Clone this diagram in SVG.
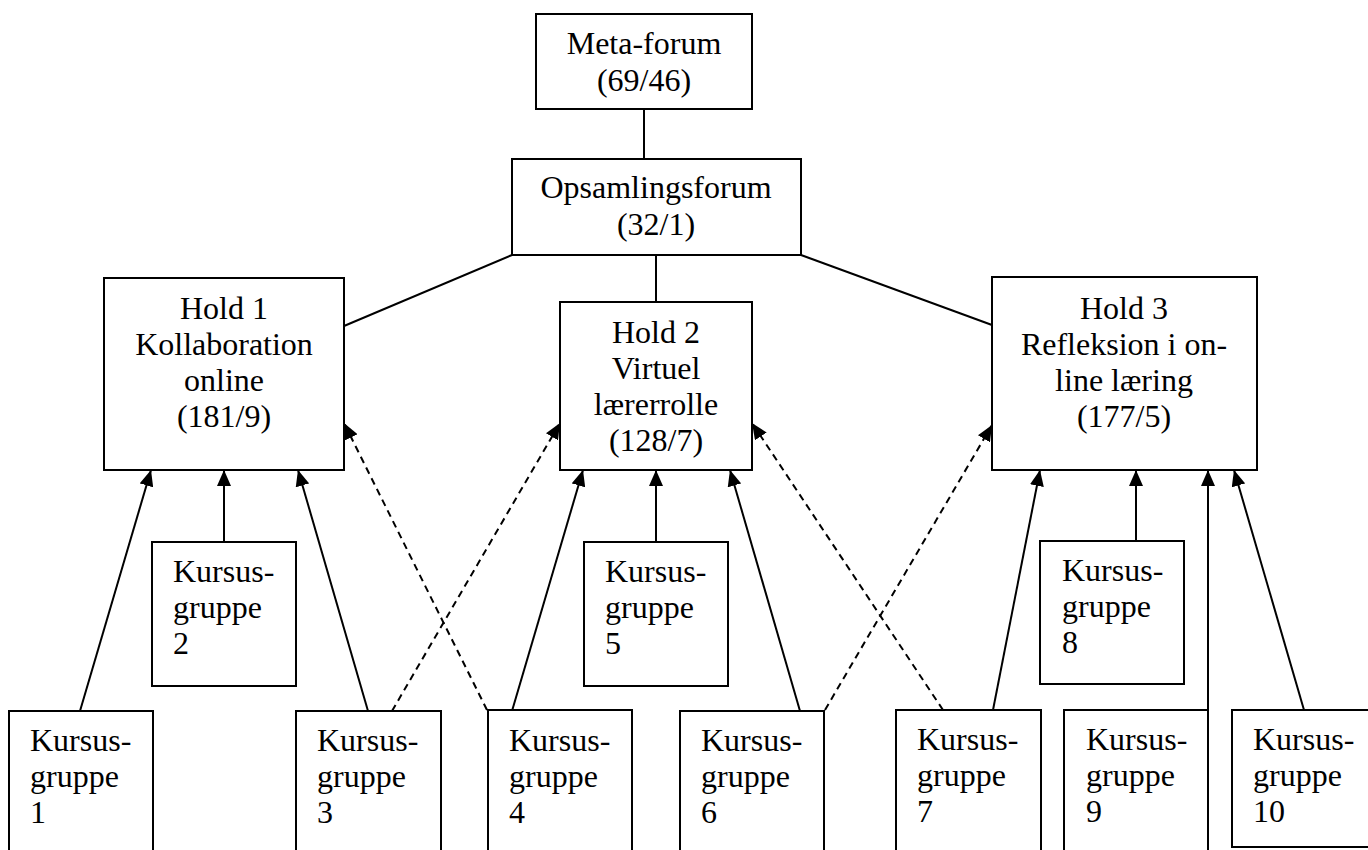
<svg xmlns="http://www.w3.org/2000/svg" width="1368" height="850" viewBox="0 0 1368 850">
<style>
rect{fill:#fff;stroke:#000;stroke-width:2}
text{font-family:"Liberation Serif","Times New Roman",serif;font-size:32px;fill:#000}
.c{text-anchor:middle}
.l{stroke:#000;stroke-width:2;fill:none}
.a{marker-end:url(#ah)}
.d{stroke-dasharray:7,5}
</style>
<defs>
<marker id="ah" markerUnits="userSpaceOnUse" markerWidth="16" markerHeight="14" refX="16" refY="7" orient="auto">
<path d="M0,0 L16,7 L0,14 Z" fill="#000"/>
</marker>
</defs>
<rect width="1368" height="850" style="stroke:none"/>
<g id="connectors">
<line class="l" x1="644" y1="109" x2="644" y2="159"/>
<line class="l" x1="656" y1="255" x2="656" y2="302"/>
<line class="l" x1="512" y1="255" x2="344" y2="326"/>
<line class="l" x1="801" y1="255" x2="992" y2="325"/>
<line class="l a" x1="80" y1="711" x2="151" y2="470"/>
<line class="l a" x1="224" y1="542" x2="224" y2="470"/>
<line class="l a" x1="368" y1="711" x2="298" y2="470"/>
<line class="l a" x1="512" y1="711" x2="583" y2="470"/>
<line class="l a" x1="656" y1="542" x2="656" y2="470"/>
<line class="l a" x1="800" y1="711" x2="730" y2="470"/>
<line class="l a" x1="993" y1="710" x2="1040" y2="470"/>
<line class="l a" x1="1136" y1="541" x2="1136" y2="470"/>
<line class="l a" x1="1208" y1="710" x2="1208" y2="470"/>
<line class="l a" x1="1304" y1="710" x2="1234" y2="470"/>
<line class="l a d" x1="392" y1="711" x2="560" y2="423"/>
<line class="l a d" x1="487" y1="710" x2="344" y2="423"/>
<line class="l a d" x1="825" y1="710" x2="992" y2="425"/>
<line class="l a d" x1="943" y1="710" x2="752" y2="423"/>
</g>
<g id="meta-forum">
<rect x="536" y="14" width="216" height="95"/>
<text class="c" x="644" y="54">Meta-forum</text>
<text class="c" x="644" y="91">(69/46)</text>
</g>
<g id="opsamlingsforum">
<rect x="512" y="159" width="289" height="96"/>
<text class="c" x="656" y="198">Opsamlingsforum</text>
<text class="c" x="656" y="235">(32/1)</text>
</g>
<g id="hold1">
<rect x="104" y="278" width="240" height="192"/>
<text class="c" x="224" y="319">Hold 1</text>
<text class="c" x="224" y="355">Kollaboration</text>
<text class="c" x="224" y="391">online</text>
<text class="c" x="224" y="427">(181/9)</text>
</g>
<g id="hold2">
<rect x="560" y="302" width="192" height="168"/>
<text class="c" x="656" y="343">Hold 2</text>
<text class="c" x="656" y="379">Virtuel</text>
<text class="c" x="656" y="415">lærerrolle</text>
<text class="c" x="656" y="451">(128/7)</text>
</g>
<g id="hold3">
<rect x="992" y="277" width="265" height="193"/>
<text class="c" x="1124" y="319">Hold 3</text>
<text class="c" x="1124" y="355">Refleksion i on-</text>
<text class="c" x="1124" y="391">line læring</text>
<text class="c" x="1124" y="427">(177/5)</text>
</g>
<g id="kg1">
<rect x="9" y="711" width="144" height="160"/>
<text x="30" y="751">Kursus-</text><text x="30" y="787">gruppe</text><text x="30" y="823">1</text>
</g>
<g id="kg2">
<rect x="152" y="542" width="144" height="144"/>
<text x="173" y="582">Kursus-</text><text x="173" y="618">gruppe</text><text x="173" y="654">2</text>
</g>
<g id="kg3">
<rect x="296" y="711" width="145" height="160"/>
<text x="317" y="751">Kursus-</text><text x="317" y="787">gruppe</text><text x="317" y="823">3</text>
</g>
<g id="kg4">
<rect x="488" y="710" width="144" height="160"/>
<text x="509" y="751">Kursus-</text><text x="509" y="787">gruppe</text><text x="509" y="823">4</text>
</g>
<g id="kg5">
<rect x="584" y="542" width="144" height="144"/>
<text x="605" y="582">Kursus-</text><text x="605" y="618">gruppe</text><text x="605" y="654">5</text>
</g>
<g id="kg6">
<rect x="680" y="711" width="144" height="160"/>
<text x="701" y="751">Kursus-</text><text x="701" y="787">gruppe</text><text x="701" y="823">6</text>
</g>
<g id="kg7">
<rect x="896" y="710" width="145" height="160"/>
<text x="917" y="750">Kursus-</text><text x="917" y="786">gruppe</text><text x="917" y="822">7</text>
</g>
<g id="kg8">
<rect x="1040" y="541" width="144" height="143"/>
<text x="1062" y="581">Kursus-</text><text x="1062" y="617">gruppe</text><text x="1062" y="653">8</text>
</g>
<g id="kg9">
<rect x="1064" y="710" width="144" height="160"/>
<text x="1086" y="750">Kursus-</text><text x="1086" y="786">gruppe</text><text x="1086" y="822">9</text>
</g>
<g id="kg10">
<rect x="1232" y="710" width="144" height="137"/>
<text x="1253" y="750">Kursus-</text><text x="1253" y="786">gruppe</text><text x="1253" y="822">10</text>
</g>
</svg>
